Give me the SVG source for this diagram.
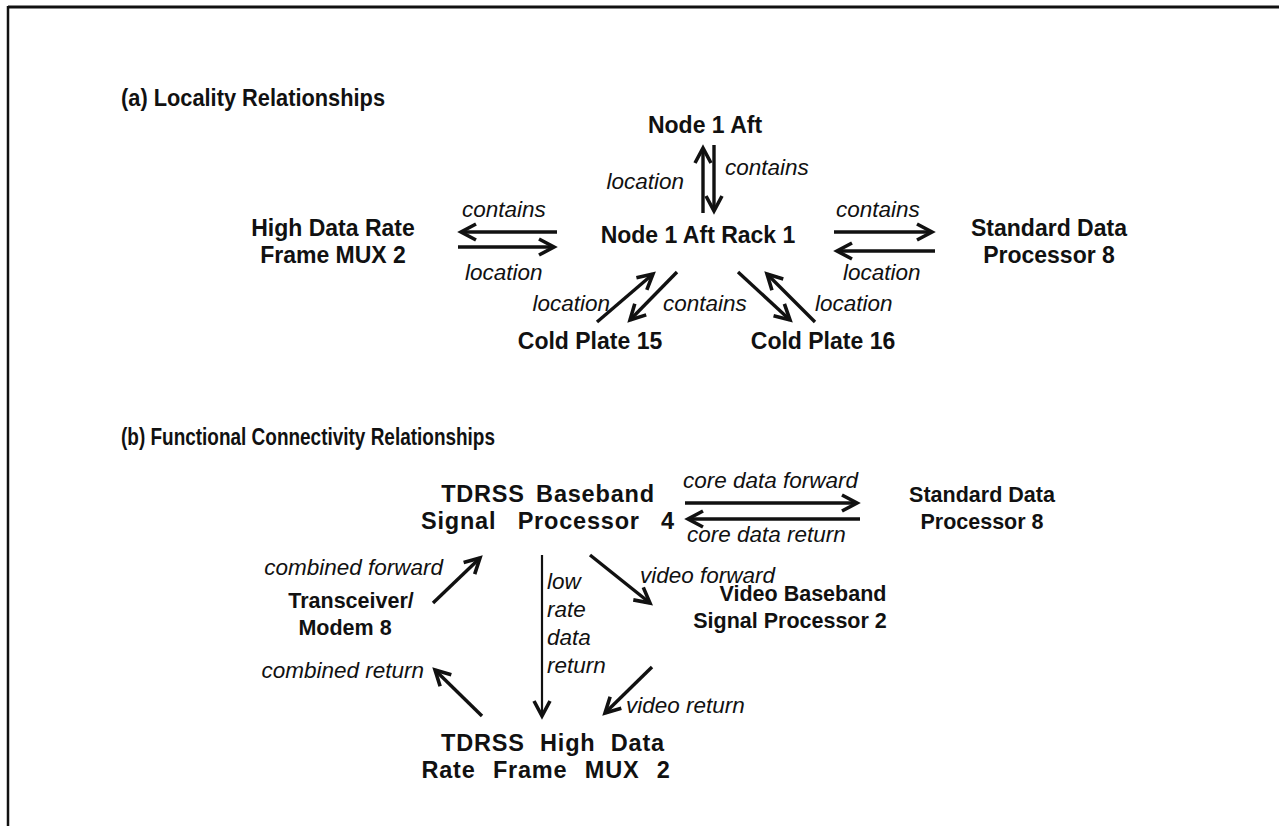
<svg xmlns="http://www.w3.org/2000/svg" width="1279" height="826" viewBox="0 0 1279 826">
<style>
  .title { font-family: "Liberation Sans", Arial, sans-serif; font-weight: bold; font-size: 24px; fill: #111; }
  .na { font-family: "Liberation Sans", Arial, sans-serif; font-weight: bold; font-size: 23px; fill: #111; text-anchor: middle; }
  .nb { font-family: "Liberation Sans", Arial, sans-serif; font-weight: bold; font-size: 21.5px; fill: #111; text-anchor: middle; }
  .wide { font-size: 23.5px; letter-spacing: 0.8px; }
  .lbl { font-family: "Liberation Sans", Arial, sans-serif; font-style: italic; font-size: 22.5px; fill: #111; }
  .end { text-anchor: end; }
  .arr { stroke: #111; stroke-width: 3.4; fill: none; marker-end: url(#ah); }
  .thin { stroke: #111; stroke-width: 2.2; fill: none; marker-end: url(#ah); }
  .frame { stroke: #111; fill: none; }
</style>
<defs>
  <marker id="ah" markerUnits="userSpaceOnUse" viewBox="-18 -11 22 22" markerWidth="22" markerHeight="22" refX="0" refY="0" orient="auto" overflow="visible">
    <path d="M-15,-8 L0,0 L-15,8" fill="none" stroke="#111" stroke-width="3.6" stroke-linejoin="miter"/>
  </marker>
</defs>
<rect width="1279" height="826" fill="#fff"/>
<g id="frame">
  <line class="frame" x1="8" y1="7" x2="1279" y2="7" stroke-width="3.2"/>
  <line class="frame" x1="8" y1="6" x2="8" y2="826" stroke-width="2.5"/>
</g>
<g id="titles">
  <text class="title" x="121" y="106" textLength="264" lengthAdjust="spacingAndGlyphs">(a)  Locality  Relationships</text>
  <text class="title" x="121" y="445" textLength="374" lengthAdjust="spacingAndGlyphs">(b)  Functional  Connectivity  Relationships</text>
</g>
<g id="connectors">
  <line class="arr" x1="703" y1="213" x2="703" y2="148"/>
  <line class="arr" x1="714" y1="145" x2="714" y2="211"/>
  <line class="arr" x1="557" y1="232" x2="461" y2="232"/>
  <line class="arr" x1="458" y1="247" x2="554" y2="247"/>
  <line class="arr" x1="834" y1="232" x2="932" y2="232"/>
  <line class="arr" x1="935" y1="251" x2="837" y2="251"/>
  <line class="arr" x1="597" y1="322" x2="653" y2="274"/>
  <line class="arr" x1="677" y1="272" x2="630" y2="320"/>
  <line class="arr" x1="738" y1="272" x2="790" y2="320"/>
  <line class="arr" x1="815" y1="322" x2="767" y2="274"/>
  <line class="arr" x1="685" y1="503" x2="857" y2="503"/>
  <line class="arr" x1="860" y1="519" x2="688" y2="519"/>
  <line class="arr" x1="433" y1="603" x2="480" y2="558"/>
  <line class="thin" x1="542" y1="555" x2="542" y2="716"/>
  <line class="arr" x1="590" y1="555" x2="650" y2="603"/>
  <line class="arr" x1="482" y1="716" x2="435" y2="670"/>
  <line class="arr" x1="652" y1="667" x2="605" y2="713"/>
</g>
<g id="labels">
  <text class="lbl end" x="684" y="189">location</text>
  <text class="lbl" x="725" y="175">contains</text>
  <text class="lbl" x="462" y="217">contains</text>
  <text class="lbl" x="465" y="280">location</text>
  <text class="lbl" x="836" y="217">contains</text>
  <text class="lbl" x="843" y="280">location</text>
  <text class="lbl end" x="610" y="311">location</text>
  <text class="lbl" x="663" y="311">contains</text>
  <text class="lbl" x="815" y="311">location</text>
  <text class="lbl" x="683" y="488">core data forward</text>
  <text class="lbl" x="687" y="542">core data return</text>
  <text class="lbl end" x="443" y="575">combined forward</text>
  <text class="lbl" x="547" y="589">low</text>
  <text class="lbl" x="547" y="617">rate</text>
  <text class="lbl" x="547" y="645">data</text>
  <text class="lbl" x="547" y="673">return</text>
  <text class="lbl" x="640" y="583">video forward</text>
  <text class="lbl end" x="424" y="678">combined return</text>
  <text class="lbl" x="626" y="713">video return</text>
</g>
<g id="node-n1aft"><text class="na" x="705" y="133">Node 1 Aft</text></g>
<g id="node-hdr"><text class="na" x="333" y="236">High Data Rate</text><text class="na" x="333" y="263">Frame MUX 2</text></g>
<g id="node-rack"><text class="na" x="698" y="243">Node 1 Aft Rack 1</text></g>
<g id="node-sdp-a"><text class="na" x="1049" y="236">Standard Data</text><text class="na" x="1049" y="263">Processor 8</text></g>
<g id="node-cp15"><text class="na" x="590" y="349">Cold Plate 15</text></g>
<g id="node-cp16"><text class="na" x="823" y="349">Cold Plate 16</text></g>
<g id="node-tbsp"><text class="nb wide" x="548" y="502" word-spacing="4">TDRSS Baseband</text><text class="nb wide" x="548" y="529" word-spacing="14">Signal Processor 4</text></g>
<g id="node-sdp-b"><text class="nb" x="982" y="502">Standard Data</text><text class="nb" x="982" y="529">Processor 8</text></g>
<g id="node-tm"><text class="nb" x="351" y="608">Transceiver/</text><text class="nb" x="345" y="635">Modem 8</text></g>
<g id="node-vbsp"><text class="nb" x="803" y="601">Video Baseband</text><text class="nb" x="790" y="628">Signal Processor 2</text></g>
<g id="node-thdr"><text class="nb wide" x="553" y="751" word-spacing="8">TDRSS High Data</text><text class="nb wide" x="546" y="778" word-spacing="10">Rate Frame MUX 2</text></g>
</svg>
